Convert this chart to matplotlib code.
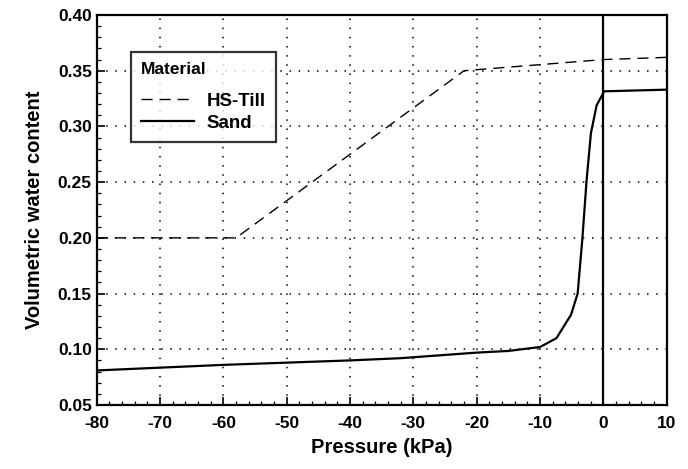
import matplotlib
matplotlib.use("Agg")
import matplotlib.pyplot as plt
import numpy as np

plt.rcParams['font.family'] = ['Liberation Sans', 'DejaVu Sans']
plt.rcParams['font.weight'] = 'bold'
plt.rcParams['axes.unicode_minus'] = False

# data
till_x = [-80, -58, -22, 0, 10]
till_y = [0.200, 0.200, 0.350, 0.360, 0.362]

sand_x = [-80, -60, -40, -32, -20, -15, -10, -7.4, -5.1, -4.06, -3.33, -2.64, -1.96, -1.06, 0]
sand_y = [0.081, 0.086, 0.090, 0.092, 0.097, 0.0985, 0.102, 0.110, 0.131, 0.150, 0.198, 0.252, 0.294, 0.319, 0.330]

sand_pos_x = [0, 10]
sand_pos_y = [0.3315, 0.333]

xticks = np.arange(-80, 11, 10)
yticks = np.arange(0.05, 0.401, 0.05)

fig = plt.figure(figsize=(6.88, 4.69), dpi=100)
ax = fig.add_axes([0.1406, 0.1365, 0.969 - 0.1406, 0.968 - 0.1365])

l1, = ax.plot(till_x, till_y, color='black', ls=(0, (8, 5)), lw=1.0, label='HS-Till')
l2, = ax.plot(sand_x, sand_y, color='black', ls='-', lw=1.6, label='Sand')
ax.plot(sand_pos_x, sand_pos_y, color='black', ls='-', lw=1.6)
ax.axvline(0, color='black', lw=1.6)

ax.set_xlim(-80, 10)
ax.set_ylim(0.05, 0.40)
ax.set_xticks(xticks)
ax.set_yticks(yticks)
ax.set_xticks(np.arange(-80, 11, 2), minor=True)
ax.set_yticks(np.arange(0.05, 0.401, 0.01), minor=True)
ax.set_yticklabels(['%.2f' % v for v in yticks])
ax.tick_params(which='both', direction='in', labelsize=12.5)
ax.tick_params(axis='x', pad=8)
ax.tick_params(which='major', length=6, width=1.2)
ax.tick_params(which='minor', length=3, width=0.9)
ax.grid(which='major', color='black', ls=(0, (1, 5)), lw=1.1)

for s in ax.spines.values():
    s.set_linewidth(1.6)

ax.set_xlabel('Pressure (kPa)', fontsize=14.5, fontweight='bold', labelpad=5)
ax.set_ylabel('Volumetric water content', fontsize=14.5, fontweight='bold', labelpad=10)

leg = ax.legend(handles=[l1, l2], title='Material', loc='upper left',
                bbox_to_anchor=(0.06, 0.905), borderaxespad=0, alignment='left',
                fontsize=13.5, title_fontsize=12.5, handlelength=2.8,
                frameon=True, fancybox=False, edgecolor='black',
                borderpad=0.55, labelspacing=0.25, handletextpad=0.7)
leg.get_frame().set_linewidth(1.6)
leg.get_title().set_fontweight('bold')
leg._legend_box.sep = 11
for t in leg.get_texts():
    t.set_fontweight('bold')

fig.savefig('out.png', dpi=100)
